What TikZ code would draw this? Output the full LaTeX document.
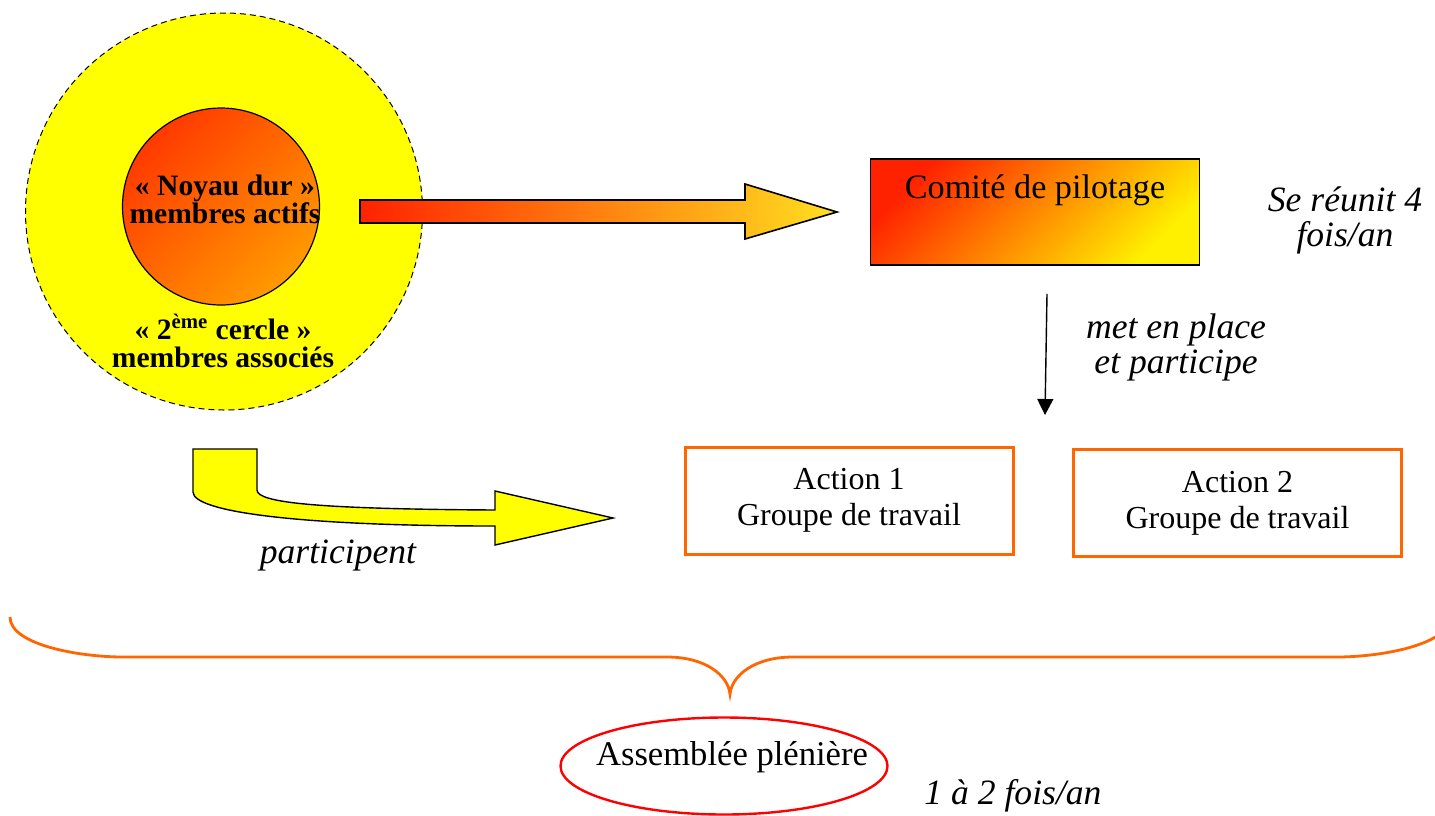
\documentclass[tikz,border=0pt]{standalone}
\usepackage{fontspec}
\setmainfont{Liberation Serif}
\usepackage{tikz}
\usetikzlibrary{shapes,arrows,arrows.meta,positioning,calc}
\definecolor{jaune}{HTML}{FFFF00}
\definecolor{rouge}{HTML}{FF2200}
\definecolor{rougenoyau}{HTML}{FF3A00}
\definecolor{orangevif}{HTML}{FF6600}
\definecolor{orangemoyen}{HTML}{FF8000}
\definecolor{orangenoyau}{HTML}{FF9A00}
\definecolor{orangeclair}{HTML}{FFE020}
\definecolor{jauneclair}{HTML}{FFF000}
\definecolor{rougevif}{HTML}{FF0000}

\begin{document}
\begin{tikzpicture}[x=0.5pt,y=-0.5pt,
  note/.style={font=\fontsize{17.8}{17.5}\selectfont\itshape, align=center},
  gras/.style={font=\fontsize{14.8}{14}\selectfont\bfseries, align=center},
  actionbox/.style={draw=orangevif, line width=1.5pt, minimum width=164pt,
    minimum height=53.5pt, inner sep=0pt, align=center,
    font=\fontsize{16}{18}\selectfont}]
  \clip (0,0) rectangle (1435,815);

  % Draw the two circles of members
  \node[circle, draw, line width=0.5pt, dash pattern=on 3pt off 2pt, fill=jaune,
    minimum size=198.5pt, inner sep=0pt] (cercle) at (224,211.5) {};
  \node[circle, draw, line width=0.6pt, minimum size=98.5pt, inner sep=0pt,
    top color=rougenoyau, bottom color=orangenoyau, shading angle=45] (noyau) at (221,206.5) {};
  \node[gras] (noyautxt) at (225,199) {«~Noyau dur~»\\membres actifs};
  \node[gras] (secondtxt) at (223,341) {«~2\textsuperscript{ème} cercle~»\\membres associés};

  % Big arrow towards the steering committee
  \path[draw=black, line width=0.8pt, left color=rouge, right color=orangeclair]
    (360,200) -- (745,200) -- (745,184) -- (837,212) -- (745,239) -- (745,223) -- (360,223) -- cycle;

  % Steering committee
  \node[draw, line width=0.8pt, minimum width=164.5pt, inner xsep=0pt, inner ysep=4pt,
    text height=15.5pt, text depth=29.5pt, font=\fontsize{17.1}{18}\selectfont,
    top color=rouge, middle color=orangemoyen, bottom color=jauneclair, shading angle=45]
    (comite) at (1035,212) {Comité de pilotage};
  \node[note] (freqcomite) at (1345,220) {Se réunit 4\\fois/an};

  % Working groups
  \node[actionbox] (action1) at (849,500.5) {Action 1\\Groupe de travail};
  \node[actionbox] (action2) at (1237.5,503) {Action 2\\Groupe de travail};
  \coordinate (mephaut) at ($(comite.south)+(12,28)$);
  \coordinate (mepbas) at (1045,415);
  \draw[-{Triangle[width=8pt,length=8pt]}, line width=0.7pt] (mephaut) -- (mepbas);
  \node[note] (meptxt) at (1176,347.5) {met en place\\et participe};

  % Curved arrow towards the actions
  \path[draw, line width=0.7pt, fill=jaune]
    (193,449) -- (257,449) -- (257,490) .. controls (257,503) and (320,509) .. (495,510)
    -- (495,491) -- (613,518) -- (495,545) -- (495,526)
    .. controls (300,526) and (193,512) .. (193,492) -- cycle;
  \node[note] (participent) at (338,555) {participent};

  % Brace
  \draw[orangevif, line width=1.4pt] (10,617) .. controls (10,645) and (80,657) .. (123,657)
    -- (667,657) .. controls (705,657) and (728,675) .. (730,694)
    .. controls (732,675) and (755,657) .. (793,657)
    -- (1337,657) .. controls (1380,657) and (1450,645) .. (1450,617);

  % Plenary assembly
  \node[ellipse, draw=rougevif, line width=1.2pt, minimum width=163.5pt,
    minimum height=48.5pt, inner sep=0pt] (pleniere) at (724,766) {};
  \node[font=\fontsize{17.3}{18}\selectfont] (plentxt) at (732,757) {Assemblée plénière};
  \node[note] (freqplen) at (1013,796) {1 à 2 fois/an};
\end{tikzpicture}
\end{document}
